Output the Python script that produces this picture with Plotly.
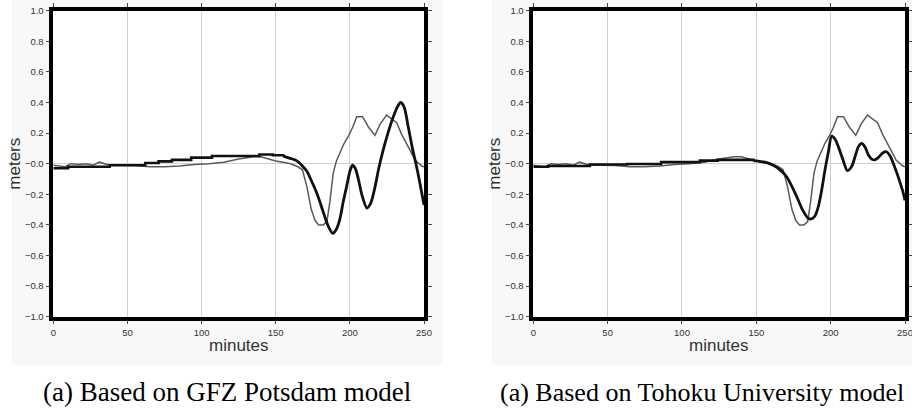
import plotly.graph_objects as go

# ---------------- data ----------------
obs_t = [0, 3, 8, 12, 17, 22, 27, 31, 34, 38, 45, 55, 65, 75, 85, 95, 105, 115, 125, 130,
         135, 140, 145, 150, 155, 160, 165, 168, 171, 174, 176.5, 179, 182, 184.5, 186.5,
         188.8, 191, 193.3, 196, 199, 202, 204.6, 208.6, 212.5, 216.9, 220.5, 224.8, 228.5,
         231.5, 235, 238.3, 241, 244, 246.5, 248.5, 250]
obs_v = [-0.01, -0.015, -0.02, 0.0, -0.005, 0.0, -0.01, 0.01, 0.0, -0.01, -0.01, -0.012,
         -0.02, -0.02, -0.015, -0.005, 0.0, 0.01, 0.03, 0.04, 0.046, 0.046, 0.03, 0.018,
         0.01, 0.0, -0.02, -0.04, -0.15, -0.30, -0.37, -0.40, -0.40, -0.38, -0.25, -0.06,
         0.02, 0.068, 0.13, 0.18, 0.24, 0.307, 0.307, 0.24, 0.185, 0.26, 0.318, 0.29, 0.27,
         0.19, 0.133, 0.08, 0.024, 0.0, -0.015, -0.02]

gfz_step_t = [0, 10, 38, 62, 71, 80, 93, 107, 139, 148, 155]
gfz_step_v = [-0.03, -0.02, -0.01, 0.005, 0.015, 0.025, 0.04, 0.05, 0.06, 0.055, 0.05]
gfz_t = [155, 160, 164, 168, 171, 174, 177.6, 180.5, 183.2, 186, 188.4, 190.8, 193.3, 195.5,
         197.8, 200, 201.8, 203.6, 205.7, 208.3, 211.5, 214, 216.9, 219.5, 222.5, 226, 229.3,
         232, 234.2, 236.6, 239.4, 242.2, 245, 247.5, 250]
gfz_v = [0.05, 0.035, 0.02, -0.015, -0.05, -0.11, -0.19, -0.27, -0.35, -0.42, -0.455, -0.43,
         -0.36, -0.25, -0.15, -0.05, -0.01, -0.03, -0.10, -0.21, -0.29, -0.26, -0.155, -0.03,
         0.09, 0.21, 0.307, 0.37, 0.40, 0.37, 0.24, 0.10, -0.02, -0.14, -0.27]

toh_step_t = [0, 10, 38, 63, 86, 112, 124, 148]
toh_step_v = [-0.02, -0.015, -0.005, -0.002, 0.01, 0.02, 0.025, 0.02]
toh_t = [148, 153, 157, 161, 164, 167, 170.4, 173.5, 177.2, 181, 185, 187.3, 189.5, 191.7,
         194, 196.2, 198.5, 200.7, 203, 205.2, 208.5, 211.2, 214, 216.4, 218.6, 220.9, 223,
         225.4, 227.6, 229.8, 232, 235, 237.5, 240, 242.2, 244.5, 246.6, 248.5, 250]
toh_v = [0.02, 0.014, 0.007, -0.008, -0.025, -0.05, -0.085, -0.14, -0.216, -0.30, -0.357,
         -0.36, -0.34, -0.28, -0.17, -0.04, 0.08, 0.18, 0.16, 0.11, 0.02, -0.045, -0.02,
         0.045, 0.11, 0.133, 0.11, 0.057, 0.03, 0.025, 0.04, 0.07, 0.078, 0.05, 0.0, -0.06,
         -0.12, -0.18, -0.24]

y_tickvals = [1.0, 0.8, 0.6, 0.4, 0.2, 0.0, -0.2, -0.4, -0.6, -0.8, -1.0]
y_ticktext = ["1.0", "0.8", "0.6", "0.4", "0.2", "\u22120.0", "\u22120.2", "\u22120.4",
              "\u22120.6", "\u22120.8", "\u22121.0"]
x_tickvals = [0, 50, 100, 150, 200, 250]
x_ticktext = ["0", "50", "100", "150", "200", "250"]
captions = ["(a) Based on GFZ Potsdam model", "(a) Based on Tohoku University model"]
x_title = "minutes"
y_title = "meters"

# ---------------- layout ----------------
W, H = 912, 414
def px(x): return x / W
def py(y): return 1 - y / H

fig = go.Figure()

OBS_COLOR = "#5a5a5a"
MOD_COLOR = "#111111"

panels = [
    dict(xa="x", ya="y", step_t=gfz_step_t, step_v=gfz_step_v, t=gfz_t, v=gfz_v),
    dict(xa="x2", ya="y2", step_t=toh_step_t, step_v=toh_step_v, t=toh_t, v=toh_v),
]
for p in panels:
    fig.add_trace(go.Scatter(x=obs_t, y=obs_v, mode="lines", xaxis=p["xa"], yaxis=p["ya"],
                             line=dict(color=OBS_COLOR, width=1.5), showlegend=False,
                             hoverinfo="skip"))
    fig.add_trace(go.Scatter(x=p["step_t"], y=p["step_v"], mode="lines", xaxis=p["xa"],
                             yaxis=p["ya"], line=dict(color=MOD_COLOR, width=2.6, shape="hv"),
                             showlegend=False, hoverinfo="skip"))
    fig.add_trace(go.Scatter(x=p["t"], y=p["v"], mode="lines", xaxis=p["xa"], yaxis=p["ya"],
                             line=dict(color=MOD_COLOR, width=2.8, shape="spline", smoothing=0.8),
                             showlegend=False, hoverinfo="skip"))

top_px, bot_px = 10.7, 316.7
doms = [(53.3, 424.0), (533.3, 905.0)]

axis_font = dict(family="Liberation Sans, Arial, sans-serif", size=9.5, color="#333333")
common_x = dict(range=[0, 250], tickvals=x_tickvals, ticktext=x_ticktext, showgrid=True,
                gridcolor="#cfcfcf", gridwidth=1, zeroline=False, showline=True,
                linecolor="black", linewidth=3.5, mirror="ticks", ticks="outside", ticklen=4,
                tickcolor="#444444", tickwidth=1, tickfont=axis_font, ticklabelstandoff=0,
                ticklabeloverflow="allow", automargin=False)
common_y = dict(range=[-1, 1], tickvals=y_tickvals, ticktext=y_ticktext, showgrid=False,
                zeroline=True, zerolinecolor="#cfcfcf", zerolinewidth=1.2, showline=True,
                linecolor="black", linewidth=3.5, mirror="ticks", ticks="outside", ticklen=4,
                tickcolor="#444444", tickwidth=1, tickfont=axis_font, automargin=False)

fig.update_layout(
    width=W, height=H, margin=dict(l=0, r=0, t=0, b=0, autoexpand=False),
    paper_bgcolor="white", plot_bgcolor="rgba(0,0,0,0)",
    xaxis=dict(domain=[px(doms[0][0]), px(doms[0][1])], anchor="y", **common_x),
    yaxis=dict(domain=[py(bot_px), py(top_px)], anchor="x", **common_y),
    xaxis2=dict(domain=[px(doms[1][0]), px(doms[1][1])], anchor="y2", **common_x),
    yaxis2=dict(domain=[py(bot_px), py(top_px)], anchor="x2", **common_y),
)

shapes = []
for (bx0, bx1) in [(12, 443), (492, 912)]:
    shapes.append(dict(type="rect", xref="paper", yref="paper", x0=px(bx0), x1=px(bx1),
                       y0=py(365), y1=py(0), fillcolor="#f8f8f8", line=dict(width=0),
                       layer="below"))
for (d0, d1) in doms:
    shapes.append(dict(type="rect", xref="paper", yref="paper", x0=px(d0), x1=px(d1),
                       y0=py(bot_px), y1=py(top_px), fillcolor="white", line=dict(width=0),
                       layer="below"))
fig.update_layout(shapes=shapes)

ann = []
title_font = dict(family="Liberation Sans, Arial, sans-serif", size=17, color="#333333")
for (d0, d1), mx in zip(doms, [15, 495]):
    ann.append(dict(text=x_title, xref="paper", yref="paper", x=px((d0 + d1) / 2),
                    y=py(345.5), xanchor="center", yanchor="middle", showarrow=False,
                    font=title_font))
    ann.append(dict(text=y_title, xref="paper", yref="paper", x=px(mx), y=py(163.7),
                    xanchor="center", yanchor="middle", showarrow=False, textangle=-90,
                    font=title_font))
cap_font = dict(family="Liberation Serif, Times New Roman, serif", size=27, color="black")
cap_font_r = dict(family="Liberation Serif, Times New Roman, serif", size=26, color="black")
ann.append(dict(text=captions[0], xref="paper", yref="paper", x=px(227), y=py(392),
                xanchor="center", yanchor="middle", showarrow=False, font=cap_font))
ann.append(dict(text=captions[1], xref="paper", yref="paper", x=px(498), y=py(392),
                xanchor="left", yanchor="middle", showarrow=False, font=cap_font_r))
fig.update_layout(annotations=ann)

fig.write_html("out.html", config={"displayModeBar": False},
               post_script="document.body.style.margin='0';")
